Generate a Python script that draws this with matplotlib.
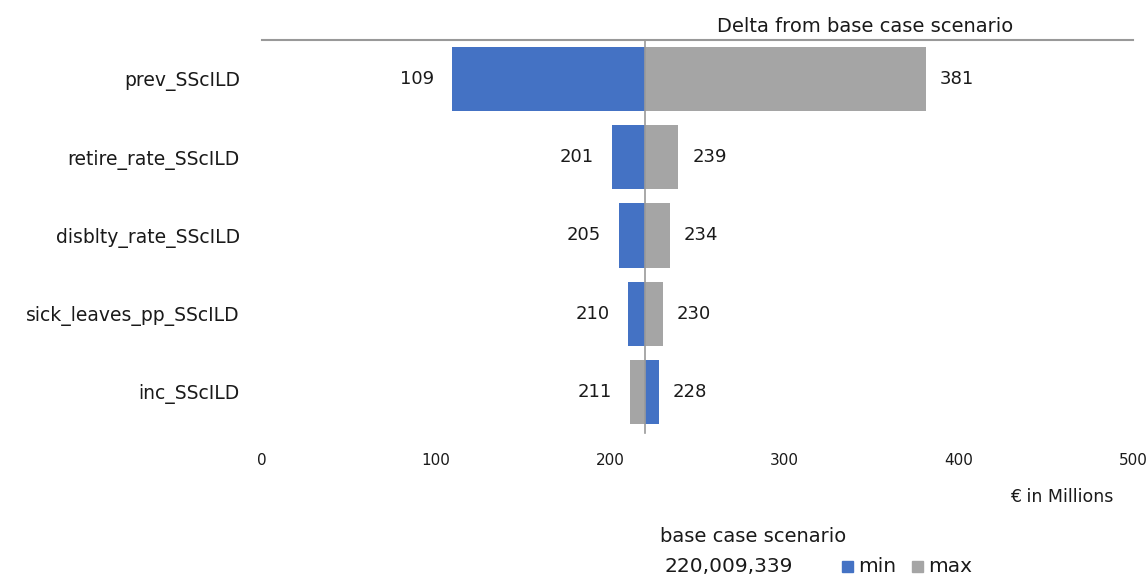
import matplotlib
matplotlib.use("Agg")
import matplotlib.pyplot as plt
from matplotlib.patches import Rectangle

plt.rcParams['font.family'] = ['DejaVu Sans']

categories = ["prev_SScILD", "retire_rate_SScILD", "disblty_rate_SScILD",
              "sick_leaves_pp_SScILD", "inc_SScILD"]
min_vals = [109, 201, 205, 210, 228]
max_vals = [381, 239, 234, 230, 211]
base = 220.009339
xticks = [0, 100, 200, 300, 400, 500]

blue = "#4472C4"
gray = "#A5A5A5"
txt = "#1a1a1a"

fig = plt.figure(figsize=(11.47, 5.8), dpi=100)
ax = fig.add_axes([262/1147, 1-431/580, (1133-262)/1147, (431-40)/580])

ypos = list(range(len(categories)))
h = 0.82
ax.barh(ypos, [m - base for m in min_vals], left=base, height=h, color=blue, zorder=2)
ax.barh(ypos, [m - base for m in max_vals], left=base, height=h, color=gray, zorder=2)

for y, a, b in zip(ypos, min_vals, max_vals):
    lo, hi = min(a, b), max(a, b)
    ax.annotate(f"{lo}", xy=(lo, y), xytext=(-13, 0), textcoords="offset points",
                ha="right", va="center", fontsize=13, color=txt)
    ax.annotate(f"{hi}", xy=(hi, y), xytext=(10, 0), textcoords="offset points",
                ha="left", va="center", fontsize=13, color=txt)

ax.axvline(base, ymin=-0.005, ymax=1, color="#9a9a9a", lw=1.2, zorder=3, clip_on=False)

ax.set_xlim(0, 500)
ax.set_ylim(len(categories) - 0.5, -0.5)
ax.set_yticks(ypos)
ax.set_yticklabels(categories, fontsize=13.5, color=txt)
ax.set_xticks(xticks)
ax.set_xticklabels([str(t) for t in xticks], fontsize=11, color=txt)
ax.tick_params(axis='both', length=0)
ax.tick_params(axis='y', pad=16)
ax.tick_params(axis='x', pad=16)
for s in ["left", "right", "bottom"]:
    ax.spines[s].set_visible(False)
ax.spines["top"].set_color("#999999")
ax.spines["top"].set_linewidth(1.5)

fig.text(865/1147, 1-27/580, "Delta from base case scenario", ha="center", va="center",
         fontsize=14, color=txt)
fig.text(1010/1147, 1-497/580, "€ in Millions", ha="left", va="center",
         fontsize=12.5, color=txt)
fig.text(660/1147, 1-537/580, "base case scenario", ha="left", va="center",
         fontsize=14, color=txt)
fig.text(665/1147, 1-567/580, "220,009,339", ha="left", va="center",
         fontsize=14.5, color=txt)

fig.patches.append(Rectangle((842/1147, 1-572/580), 11/1147, 11/580,
                             transform=fig.transFigure, color=blue))
fig.text(858/1147, 1-567/580, "min", ha="left", va="center", fontsize=14.5, color=txt)
fig.patches.append(Rectangle((912/1147, 1-572/580), 11/1147, 11/580,
                             transform=fig.transFigure, color=gray))
fig.text(928/1147, 1-567/580, "max", ha="left", va="center", fontsize=14.5, color=txt)

fig.savefig("out.png", dpi=100)
